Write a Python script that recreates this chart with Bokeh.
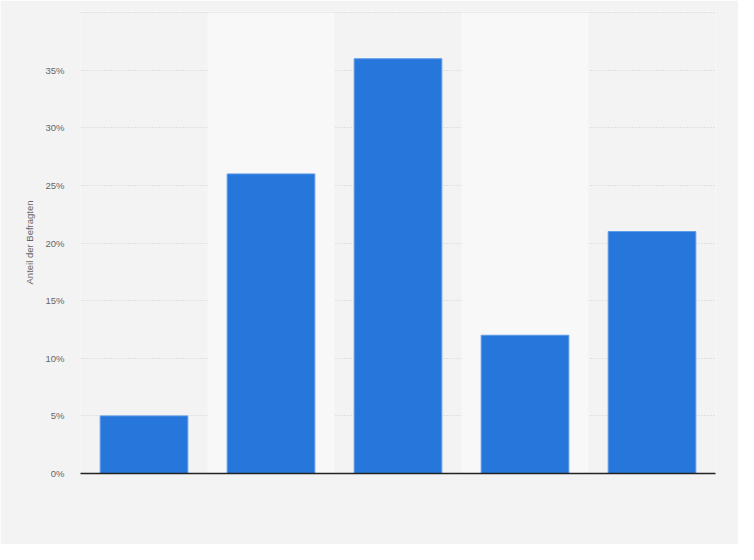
from bokeh.plotting import figure
from bokeh.models import FixedTicker, Range1d, CustomJSTickFormatter, BoxAnnotation
from bokeh.embed import file_html
from bokeh.resources import INLINE

categories = ["A", "B", "C", "D", "E"]
values = [5, 26, 36, 12, 21]
y_ticks = [0, 5, 10, 15, 20, 25, 30, 35]
grid_ticks = [0, 5, 10, 15, 20, 25, 30, 35, 40]

BG = "#f3f3f3"
STRIPE = "#f8f8f8"
BAR = "#2776db"

xs = list(range(len(categories)))

p = figure(width=738, height=544, output_backend="svg", toolbar_location=None,
           x_range=Range1d(-0.5, len(categories) - 0.5), y_range=Range1d(0, 40.1),
           min_border_left=80, min_border_right=23, min_border_top=11, min_border_bottom=71)
p.background_fill_color = BG
p.border_fill_color = BG
p.outline_line_color = None

for i in xs:
    if i % 2 == 1:
        p.add_layout(BoxAnnotation(left=i - 0.5, right=i + 0.5, bottom=0, top=40,
                                   fill_color=STRIPE, fill_alpha=1.0, line_color=None, level="underlay"))

p.vbar(x=xs, top=values, width=0.69, fill_color=BAR, line_color="#5c9ae8", line_width=1)

p.xgrid.grid_line_color = None
p.ygrid.ticker = FixedTicker(ticks=grid_ticks)
p.ygrid.grid_line_color = "#cccccc"
p.ygrid.grid_line_dash = "1 2"
p.ygrid.grid_line_width = 1

p.yaxis.ticker = FixedTicker(ticks=y_ticks)
p.yaxis.formatter = CustomJSTickFormatter(code="return tick + '%';")
p.yaxis.axis_line_color = None
p.yaxis.major_tick_line_color = None
p.yaxis.major_tick_out = 0
p.yaxis.major_tick_in = 0
p.yaxis.minor_tick_line_color = None
p.yaxis.major_label_text_color = "#666666"
p.yaxis.major_label_text_font = "Liberation Sans"
p.yaxis.major_label_text_font_size = "9.5px"
p.yaxis.major_label_standoff = 16
p.yaxis.axis_label = "Anteil der Befragten"
p.yaxis.axis_label_text_font = "Liberation Sans"
p.yaxis.axis_label_text_font_style = "normal"
p.yaxis.axis_label_text_font_size = "9.5px"
p.yaxis.axis_label_text_color = "#666666"
p.yaxis.axis_label_standoff = 7

p.xaxis.ticker = FixedTicker(ticks=[])
p.xaxis.major_label_text_font_size = "0px"
p.xaxis.axis_line_color = "#222222"
p.xaxis.axis_line_width = 1.5
p.xaxis.major_tick_line_color = None
p.xaxis.minor_tick_line_color = None

open("out.html", "w").write(file_html(p, INLINE))
